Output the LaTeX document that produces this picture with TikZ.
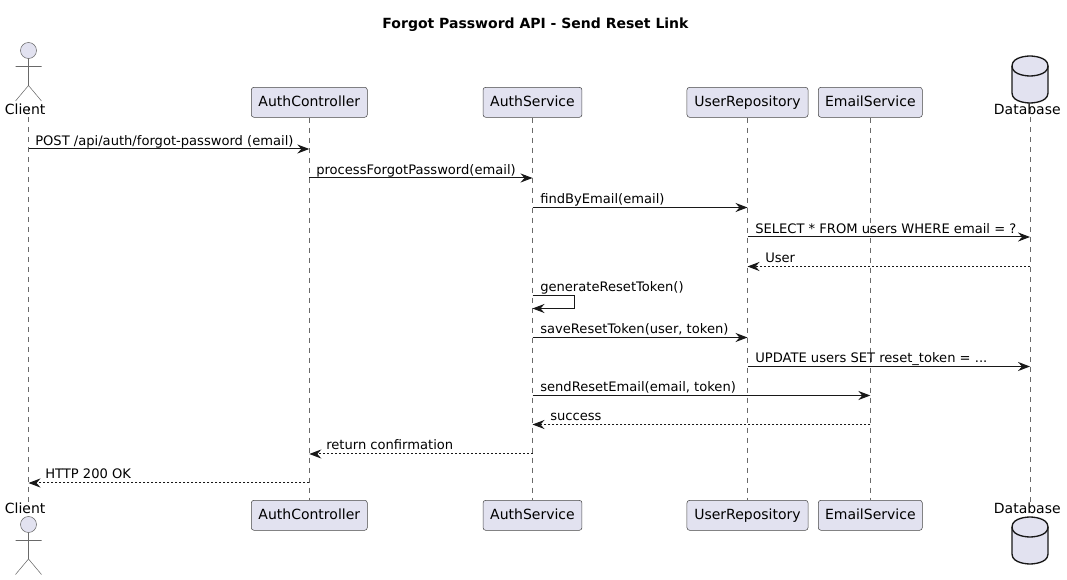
\documentclass[tikz,border=0pt]{standalone}
\usepackage{fontspec}
\setmainfont{DejaVu Sans}
\usetikzlibrary{arrows.meta}
\definecolor{pfill}{HTML}{E2E2F0}
\definecolor{pline}{HTML}{181818}
\tikzset{
  part/.style={draw=pline!80!white,line width=0.4pt,fill=pfill,rounded corners=2pt,minimum height=22.5pt,inner sep=0pt,text height=8.8pt,text depth=2.2pt,font=\fontsize{10.5pt}{12pt}\selectfont,text=black},
  lbl/.style={inner sep=0pt,anchor=base,font=\fontsize{10.5pt}{12pt}\selectfont,text=black},
  msg/.style={inner sep=0pt,anchor=base west,font=\fontsize{9.82pt}{11pt}\selectfont,text=black},
  life/.style={draw=pline!65!white,line width=0.4pt,dash pattern=on 3.75pt off 3.75pt},
  call/.style={draw=pline,line width=0.75pt,-{Stealth[length=9pt,width=6.8pt,inset=3pt]}},
  reply/.style={call,dash pattern=on 1.5pt off 1.5pt},
  actorline/.style={draw=pline!65!white,line width=0.4pt},
  dbline/.style={draw=pline,line width=1pt}
}
\begin{document}
\begin{tikzpicture}[x=0.75pt,y=-0.75pt]
\useasboundingbox (0,0) rectangle (1067,580);
\node[font=\bfseries\fontsize{10.5pt}{12pt}\selectfont,inner sep=0pt,anchor=base] (title) at (535.5,28.7) {Forgot Password API - Send Reset Link};

% lifeline anchors
\coordinate (clientT) at (28.5,107); \coordinate (clientB) at (28.5,508);
\coordinate (dbT) at (1030,107); \coordinate (dbB) at (1030,508);

% lifelines
\draw[life] (clientT) -- (clientB);
\draw[life] (dbT) -- (dbB);

% participants
\node[part,minimum width=87pt] (ac) at (309.3,102.3) {AuthController};
\node[part,minimum width=74.2pt] (as) at (532.5,102.3) {AuthService};
\node[part,minimum width=90.8pt] (ur) at (747.5,102.3) {UserRepository};
\node[part,minimum width=78pt] (es) at (870.3,102.3) {EmailService};
\node[part,minimum width=87pt] (acb) at (309.3,515.3) {AuthController};
\node[part,minimum width=74.2pt] (asb) at (532.5,515.3) {AuthService};
\node[part,minimum width=90.8pt] (urb) at (747.5,515.3) {UserRepository};
\node[part,minimum width=78pt] (esb) at (870.3,515.3) {EmailService};

\draw[life] (ac.south) -- (acb.north);
\draw[life] (as.south) -- (asb.north);
\draw[life] (ur.south) -- (urb.north);
\draw[life] (es.south) -- (esb.north);

% actor top
\node[lbl] (clientl) at (25.2,115) {Client};
\draw[actorline,fill=pfill] (28.5,50.5) circle (8);
\draw[actorline] (28.5,58.5) -- (28.5,85.5) (15.5,66.5) -- (41.5,66.5) (15.5,101) -- (28.5,85.5) -- (41.5,101);
% actor bottom
\node[lbl] (clientlb) at (25.2,513) {Client};
\draw[actorline,fill=pfill] (28.5,524.5) circle (8);
\draw[actorline] (28.5,532.5) -- (28.5,559) (15.5,540.5) -- (41.5,540.5) (15.5,574.5) -- (28.5,559) -- (41.5,574.5);

% database top
\node[lbl] (dbl) at (1027.3,115) {Database};
\draw[dbline,fill=pfill] (1012,66) .. controls (1012,56) and (1030,56) .. (1030,56) .. controls (1030,56) and (1048,56) .. (1048,66) -- (1048,93) .. controls (1048,103) and (1030,103) .. (1030,103) .. controls (1030,103) and (1012,103) .. (1012,93) -- cycle;
\draw[dbline] (1012,66) .. controls (1012,76) and (1030,76) .. (1030,76) .. controls (1030,76) and (1048,76) .. (1048,66);
% database bottom
\node[lbl] (dblb) at (1027.3,513) {Database};
\draw[dbline,fill=pfill] (1012,527) .. controls (1012,517) and (1030,517) .. (1030,517) .. controls (1030,517) and (1048,517) .. (1048,527) -- (1048,554) .. controls (1048,564) and (1030,564) .. (1030,564) .. controls (1030,564) and (1012,564) .. (1012,554) -- cycle;
\draw[dbline] (1012,527) .. controls (1012,537) and (1030,537) .. (1030,537) .. controls (1030,537) and (1048,537) .. (1048,527);

% messages
\draw[call] (clientT |- 0,149) -- (ac.south |- 0,149);
\node[msg] (m1) at (35,145.2) {POST /api/auth/forgot-password (email)};
\draw[call] (ac.south |- 0,178) -- (as.south |- 0,178);
\node[msg] (m2) at (316,174.2) {processForgotPassword(email)};
\draw[call] (as.south |- 0,207.5) -- (ur.south |- 0,207.5);
\node[msg] (m3) at (540,203.2) {findByEmail(email)};
\draw[call] (ur.south |- 0,237) -- (dbT |- 0,237);
\node[msg] (m4) at (755,233.2) {SELECT * FROM users WHERE email = ?};
\draw[reply] (dbT |- 0,266.5) -- (ur.south |- 0,266.5);
\node[msg] (m5) at (765,262.2) {User};
\draw[call] (as.south |- 0,295.5) -- ++(42,0) -- ++(0,13) -- (as.south |- 0,308.5);
\node[msg] (m6) at (540,291.2) {generateResetToken()};
\draw[call] (as.south |- 0,337.5) -- (ur.south |- 0,337.5);
\node[msg] (m7) at (540,333.2) {saveResetToken(user, token)};
\draw[call] (ur.south |- 0,366.5) -- (dbT |- 0,366.5);
\node[msg] (m8) at (755,362.2) {UPDATE users SET reset\_token = ...};
\draw[call] (as.south |- 0,395.5) -- (es.south |- 0,395.5);
\node[msg] (m9) at (540,391.2) {sendResetEmail(email, token)};
\draw[reply] (es.south |- 0,424.5) -- (as.south |- 0,424.5);
\node[msg] (m10) at (550,420.2) {success};
\draw[reply] (as.south |- 0,454) -- (ac.south |- 0,454);
\node[msg] (m11) at (326,449.7) {return confirmation};
\draw[reply] (ac.south |- 0,483) -- (clientT |- 0,483);
\node[msg] (m12) at (45,478.7) {HTTP 200 OK};
\end{tikzpicture}
\end{document}
